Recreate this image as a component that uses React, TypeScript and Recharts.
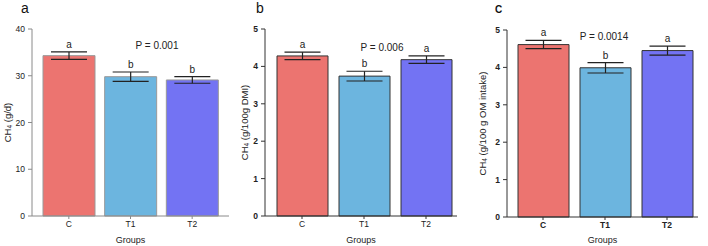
import React from 'react';
import { BarChart, Bar, XAxis, YAxis, ErrorBar, LabelList, Cell } from 'recharts';

const groups = ['C', 'T1', 'T2'];
const valuesA = [34.3, 29.8, 29.1];
const errA = [0.8, 1.0, 0.7];
const lettersA = ['a', 'b', 'b'];
const valuesB = [4.28, 3.74, 4.18];
const errB = [0.1, 0.13, 0.1];
const lettersB = ['a', 'b', 'a'];
const valuesC = [4.61, 3.99, 4.45];
const errC = [0.11, 0.14, 0.12];
const lettersC = ['a', 'b', 'a'];
const ticksA = [0, 10, 20, 30, 40];
const ticksBC = [0, 1, 2, 3, 4, 5];
const colors = ['#EC7470', '#6CB5DF', '#7373F3'];

const FONT = 'Liberation Sans, Arial, sans-serif';

type PanelProps = {
  left: number;
  values: number[];
  errs: number[];
  letters: string[];
  ticks: number[];
  domainMax: number;
  yWidth: number;
  right: number;
  top: number;
  xHeight: number;
  padLeft: number;
  padRight: number;
  barSize: number;
  axisColor: string;
  barStroke: string;
  bold: boolean;
  boldX: boolean;
  unit: string;
  labelOffset: number;
  title: string;
  titleStyle: React.CSSProperties;
  pText: string;
  pX: number;
  pY: number;
};

function Panel(p: PanelProps) {
  const data = groups.map((g, i) => ({ g, v: p.values[i], err: p.errs[i], letter: p.letters[i] }));
  const yLabel = (props: any) => {
    const vb = props.viewBox || {};
    const cx = vb.x + p.labelOffset;
    const cy = vb.y + vb.height / 2;
    return (
      <text
        x={cx}
        y={cy}
        transform={`rotate(-90 ${cx} ${cy})`}
        textAnchor="middle"
        dominantBaseline="central"
        fontSize={9.5}
        fontFamily={FONT}
        fill="#222"
      >
        CH
        <tspan fontSize={6.5} dy={2}>4</tspan>
        <tspan dy={-2}>{' ' + p.unit}</tspan>
      </text>
    );
  };
  const letterContent = (props: any) => {
    const { x, y, width, height, index } = props;
    const v = p.values[index];
    const pxPerUnit = height / v;
    const ty = y - p.errs[index] * pxPerUnit - 4;
    return (
      <text x={x + width / 2} y={ty} textAnchor="middle" fontSize={10} fontFamily={FONT} fill="#222">
        {p.letters[index]}
      </text>
    );
  };
  return (
    <div style={{ position: 'absolute', left: p.left, top: 0, width: 236, height: 246 }}>
      <BarChart
        width={236}
        height={246}
        data={data}
        margin={{ top: p.top, right: p.right, left: 0, bottom: 0 }}
      >
        <XAxis
          dataKey="g"
          height={p.xHeight}
          padding={{ left: p.padLeft, right: p.padRight }}
          stroke={p.axisColor}
          tickSize={3}
          tickMargin={2}
          tick={{ fontSize: 8.5, fontFamily: FONT, fill: '#222', fontWeight: p.boldX ? 'bold' : 'normal' }}
          label={{ value: 'Groups', position: 'insideBottom', offset: 3, fontSize: 9, fontFamily: FONT, fill: '#222' }}
        />
        <YAxis
          width={p.yWidth}
          domain={[0, p.domainMax]}
          ticks={p.ticks}
          interval={0}
          stroke={p.axisColor}
          tickSize={4}
          tickMargin={3}
          tick={{ fontSize: 8.5, fontFamily: FONT, fill: '#222', fontWeight: p.bold ? 'bold' : 'normal' }}
          label={{ content: yLabel }}
        />
        <Bar dataKey="v" barSize={p.barSize} stroke={p.barStroke} strokeWidth={1} isAnimationActive={false}>
          {data.map((d, i) => (
            <Cell key={d.g} fill={colors[i]} />
          ))}
          <ErrorBar dataKey="err" width={18} stroke="#222" strokeWidth={1.2} direction="y" />
          <LabelList dataKey="letter" content={letterContent} />
        </Bar>
      </BarChart>
      <div
        style={{
          position: 'absolute',
          left: p.pX,
          top: p.pY,
          transform: 'translate(-50%, -50%)',
          fontSize: 10,
          lineHeight: 1,
          fontFamily: FONT,
          color: '#222',
          whiteSpace: 'nowrap',
        }}
      >
        {p.pText}
      </div>
      <div style={{ position: 'absolute', fontFamily: FONT, color: '#111', lineHeight: 1, ...p.titleStyle }}>{p.title}</div>
    </div>
  );
}

export default function App() {
  return (
    <div style={{ position: 'absolute', left: 0, top: 0, width: 708, height: 246, background: '#fff' }}>
      <Panel
        left={0}
        values={valuesA}
        errs={errA}
        letters={lettersA}
        ticks={ticksA}
        domainMax={40}
        yWidth={32}
        right={7}
        top={29}
        xHeight={30}
        padLeft={6}
        padRight={6}
        barSize={52}
        axisColor="#8a8a8a"
        barStroke="#999"
        bold={false}
        boldX={false}
        unit="(g/d)"
        labelOffset={7}
        title="a"
        titleStyle={{ left: 21, top: 1, fontSize: 14 }}
        pText="P = 0.001"
        pX={157}
        pY={46}
      />
      <Panel
        left={236}
        values={valuesB}
        errs={errB}
        letters={lettersB}
        ticks={ticksBC}
        domainMax={5}
        yWidth={29}
        right={15}
        top={29}
        xHeight={30}
        padLeft={6}
        padRight={0}
        barSize={51}
        axisColor="#333"
        barStroke="#333"
        bold={true}
        boldX={false}
        unit="(g/100g DMI)"
        labelOffset={8}
        title="b"
        titleStyle={{ left: 20, top: 1, fontSize: 14 }}
        pText="P = 0.006"
        pX={146}
        pY={48}
      />
      <Panel
        left={472}
        values={valuesC}
        errs={errC}
        letters={lettersC}
        ticks={ticksBC}
        domainMax={5}
        yWidth={35}
        right={10}
        top={30}
        xHeight={29}
        padLeft={5}
        padRight={0}
        barSize={51}
        axisColor="#333"
        barStroke="#333"
        bold={true}
        boldX={true}
        unit="(g/100 g OM intake)"
        labelOffset={10}
        title="C"
        titleStyle={{ left: 23, top: 5, fontSize: 10, fontWeight: 'bold' }}
        pText="P = 0.0014"
        pX={132}
        pY={37}
      />
    </div>
  );
}
